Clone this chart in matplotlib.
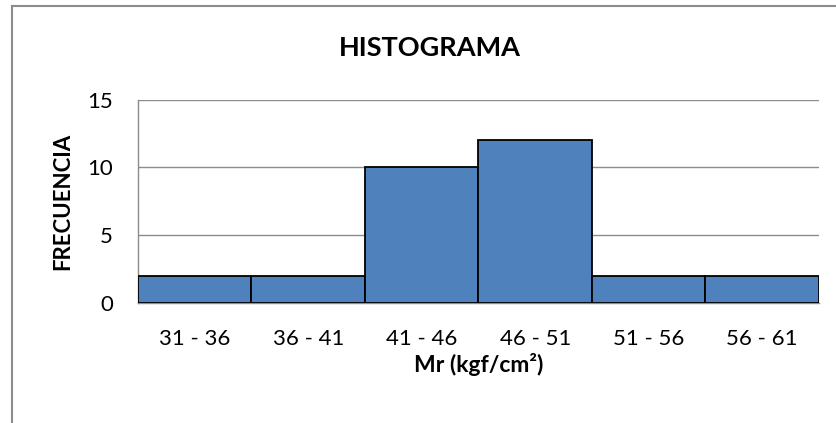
import matplotlib
matplotlib.use("Agg")
import matplotlib.pyplot as plt
from matplotlib.lines import Line2D

plt.rcParams['font.family'] = ['Lato', 'DejaVu Sans']

categories = ["31 - 36", "36 - 41", "41 - 46", "46 - 51", "51 - 56", "56 - 61"]
frequencies = [2, 2, 10, 12, 2, 2]
y_ticks = [0, 5, 10, 15]

W, H = 837, 423
fig = plt.figure(figsize=(W / 100, H / 100), dpi=100)
ax = fig.add_axes([138 / W, 1 - 302.7 / H, 681 / W, 203.2 / H])

x = list(range(len(categories)))
ax.bar(x, frequencies, width=1.0, color="#4F81BD", edgecolor="black", linewidth=1.3, zorder=3)
ax.set_xlim(-0.5, len(categories) - 0.5)
ax.set_ylim(0, 15)
ax.set_yticks(y_ticks)
ax.set_xticks(x)
ax.set_xticklabels(categories)
ax.tick_params(axis="both", length=0, labelsize=16, colors="black")
ax.tick_params(axis="x", pad=19)
ax.tick_params(axis="y", pad=18)
ax.yaxis.grid(True, color="#8C8C8C", linewidth=1.0, zorder=0)
for s in ["top", "right"]:
    ax.spines[s].set_visible(False)
for s in ["left", "bottom"]:
    ax.spines[s].set_color("#8C8C8C")
    ax.spines[s].set_linewidth(1.0)

ax.set_xlabel("Mr (kgf/cm²)", fontsize=16.5, fontweight="bold", va="center")
ax.xaxis.set_label_coords(0.5, (302.7 - 364) / 203.2)
ax.set_ylabel("FRECUENCIA", fontsize=16, fontweight="bold", labelpad=10)
fig.text(430 / W, 1 - 47.5 / H, "HISTOGRAMA", fontsize=19.5, fontweight="bold", ha="center", va="center")

# chart border
fig.add_artist(Line2D([12.5 / W, 12.5 / W], [0, 1 - 6 / H], transform=fig.transFigure, color="#8C8C8C", linewidth=1.5))
fig.add_artist(Line2D([12.5 / W, 1], [1 - 6 / H, 1 - 6 / H], transform=fig.transFigure, color="#8C8C8C", linewidth=1.5))

fig.savefig("out.png", dpi=100)
